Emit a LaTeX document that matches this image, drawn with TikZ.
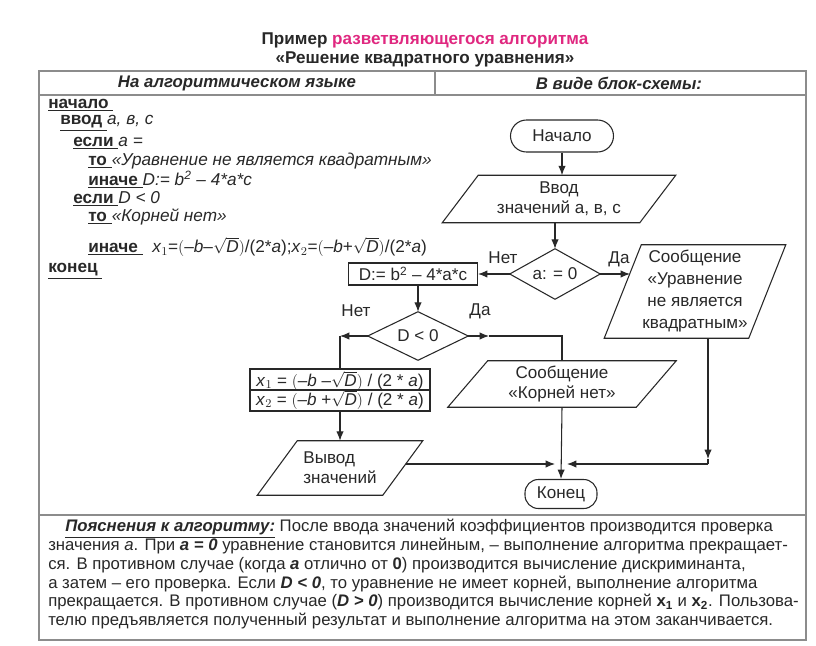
\documentclass[tikz,border=0pt]{standalone}
\usepackage{fontspec}
\setmainfont{Liberation Sans}
\usetikzlibrary{arrows.meta}
\definecolor{mag}{RGB}{224,40,128}
\definecolor{frm}{RGB}{140,140,140}
\definecolor{ink}{RGB}{40,40,40}
\newcommand{\kw}[1]{\underline{\textbf{#1}\ }}
\newcommand{\drawpara}[2]{\draw[line] ([xshift=#2]#1.north west) -- ([xshift=#2]#1.north east) -- ([xshift=-#2]#1.south east) -- ([xshift=-#2]#1.south west) -- cycle;}
\begin{document}
\begin{tikzpicture}[x=0.75pt,y=-0.75pt,
  line/.style={draw=ink, line width=0.8pt},
  arr/.style={line, -{Latex[length=7pt,width=5.5pt]}},
  frame/.style={draw=frm, line width=1.7pt},
  fc/.style={font=\fontsize{12.8}{15}\selectfont, text=ink, inner sep=0pt, align=center},
  lbl/.style={font=\fontsize{12.8}{14}\selectfont, text=ink, inner sep=0pt},
  alg/.style={anchor=west, inner sep=0pt, font=\fontsize{12.9}{14}\selectfont, text=ink},
  hdr/.style={inner sep=0pt, font=\fontsize{12.6}{14}\selectfont\bfseries\itshape, text=ink},
  ttl/.style={inner sep=0pt, font=\fontsize{12.8}{14}\selectfont\bfseries, text=ink}]
\fill[white] (0,0) rectangle (816,645);
\useasboundingbox (0,0) rectangle (816,645);

% title
\node[ttl] (t1) at (425,40) {Пример \textcolor{mag}{разветвляющегося алгоритма}};
\node[ttl] (t2) at (425,59) {«Решение квадратного уравнения»};

% frame
\draw[frame] (39,71) rectangle (806,640);
\draw[frame] (39,95) -- (806,95);
\draw[frame] (435,71) -- (435,95);
\draw[frame] (39,515) -- (806,515);

\node[hdr] (h1) at (237,83) {На алгоритмическом языке};
\node[hdr] (h2) at (619,83) {В виде блок-схемы:};

% algorithmic language
\node[alg] (l1) at (48,105) {\kw{начало}};
\node[alg] (l2) at (60,123) {\kw{ввод}\textit{а, в, с}};
\node[alg] (l3) at (73,143) {\kw{если}\textit{а =}};
\node[alg] (l4) at (88,161) {\kw{то}\textit{«Уравнение не является квадратным»}};
\node[alg] (l5) at (88,180) {\kw{иначе}\textit{D:= b\textsuperscript{2} – 4*a*c}};
\node[alg] (l6) at (73,199) {\kw{если}\textit{D < 0}};
\node[alg] (l7) at (88,217) {\kw{то}\textit{«Корней нет»}};
\node[alg] (l8) at (88,247) {\kw{иначе}\ \ \textit{x}$_1$=$\bigl(\mbox{–\textit{b}–}\sqrt{\mbox{\textit{D}}}\bigr)$/(2*\textit{a});\textit{x}$_2$=$\bigl(\mbox{–\textit{b}+}\sqrt{\mbox{\textit{D}}}\bigr)$/(2*\textit{a})};
\node[alg] (l9) at (48,271) {\kw{конец}};

% flowchart
\node[fc, draw=ink, line width=0.8pt, rounded corners=12pt, minimum width=77.25pt, minimum height=24pt] (start) at (562,136) {Начало};
\node[fc, minimum width=147.75pt, minimum height=35.25pt] (inp) at (559,199) {Ввод\\значений а, в, с};
\drawpara{inp}{13.5pt}
\node[fc, minimum width=67.5pt, minimum height=37.5pt] (dec1) at (555,274) {а: = 0};
\draw[line] (dec1.north) -- (dec1.east) -- (dec1.south) -- (dec1.west) -- cycle;
\node[fc, draw=ink, line width=0.8pt, minimum width=96.75pt, minimum height=16.5pt] (dbox) at (413,274) {D:= b\textsuperscript{2} – 4*a*c};
\node[fc, font=\fontsize{12.8}{16.5}\selectfont, minimum width=108pt, minimum height=69.75pt] (msg1) at (695,291.5) {Сообщение\\«Уравнение\\не является\\квадратным»};
\drawpara{msg1}{13.9pt}
\node[fc, minimum width=75pt, minimum height=36pt] (dec2) at (418,336) {D < 0};
\draw[line] (dec2.north) -- (dec2.east) -- (dec2.south) -- (dec2.west) -- cycle;
\node[fc, draw=ink, line width=0.8pt, minimum width=135pt, minimum height=31.5pt] (xbox) at (340,390) {};
\draw[line] (xbox.west) -- (xbox.east);
\node[fc] (x1) at (340,380.5) {\textit{x}$_1$ = $\bigl(\mbox{–\textit{b} –} \sqrt{\mbox{\textit{D}}}\bigr)$ / (2 * \textit{a})};
\node[fc] (x2) at (340,400) {\textit{x}$_2$ = $\bigl(\mbox{–\textit{b} +} \sqrt{\mbox{\textit{D}}}\bigr)$ / (2 * \textit{a})};
\node[fc, minimum width=141pt, minimum height=34.5pt] (msg2) at (562,384) {Сообщение\\«Корней нет»};
\drawpara{msg2}{15pt}
\node[fc, align=left, minimum width=93.75pt, minimum height=40.5pt] (out) at (340,468) {Вывод\\значений};
\drawpara{out}{15pt}
\node[fc, draw=ink, line width=0.8pt, rounded corners=10pt, minimum width=54pt, minimum height=21.75pt] (end) at (561,494) {Конец};

% labels
\node[lbl] (n1) at (503,258) {Нет};
\node[lbl] (y1) at (619,259) {Да};
\node[lbl] (n2) at (356,311) {Нет};
\node[lbl] (y2) at (480,311) {Да};

% connectors
\draw[arr] (start.south) -- (start.south |- inp.north);
\draw[arr] (inp.south -| dec1.north) -- (dec1.north);
\draw[arr] (dec1.west) -- (dbox.east);
\coordinate (m1in) at (630,274);
\draw[arr] (dec1.east) -- (m1in);
\draw[arr] (dbox.south -| dec2.north) -- (dec2.north);
\coordinate (cL) at (340,336);
\draw[arr] (dec2.west) -- (cL);
\draw[line] (cL) -- (xbox.north);
\coordinate (cR) at (489,336);
\coordinate (cR2) at (562,336);
\draw[arr] (dec2.east) -- (cR);
\draw[line] (cR) -- (cR2) -- (msg2.north);
\draw[arr] (xbox.south) -- (out.north);
\draw[arr] (msg2.south) -- (end.north);
\coordinate (oR) at (405.5,464);
\coordinate (jL) at (555,464);
\draw[arr] (oR) -- (jL);
\coordinate (m1b) at (708,338);
\coordinate (rc) at (708,459);
\draw[arr] (m1b) -- (rc);
\coordinate (rc2) at (708,464);
\coordinate (jR) at (567,464);
\draw[line] (rc) -- (rc2);
\draw[arr] (rc2) -- (jR);

% explanation
\node[anchor=north west, inner sep=0pt, align=left, text=ink, font=\fontsize{12.55}{14.1}\selectfont] (expl) at (48,519) {%
\hspace*{12.75pt}\underline{\textbf{\textit{Пояснения к алгоритму:}}} После ввода значений коэффициентов производится проверка\\
значения \textit{а}. При \textbf{\textit{а = 0}} уравнение становится линейным, – выполнение алгоритма прекращает-\\
ся. В противном случае (когда \textbf{\textit{а}} отлично от \textbf{0}) производится вычисление дискриминанта,\\
а затем – его проверка. Если \textbf{\textit{D < 0}}, то уравнение не имеет корней, выполнение алгоритма\\
прекращается. В противном случае (\textbf{\textit{D > 0}}) производится вычисление корней \textbf{x$_\mathbf{1}$} и \textbf{x$_\mathbf{2}$}. Пользова-\\
телю предъявляется полученный результат и выполнение алгоритма на этом заканчивается.};
\end{tikzpicture}
\end{document}
